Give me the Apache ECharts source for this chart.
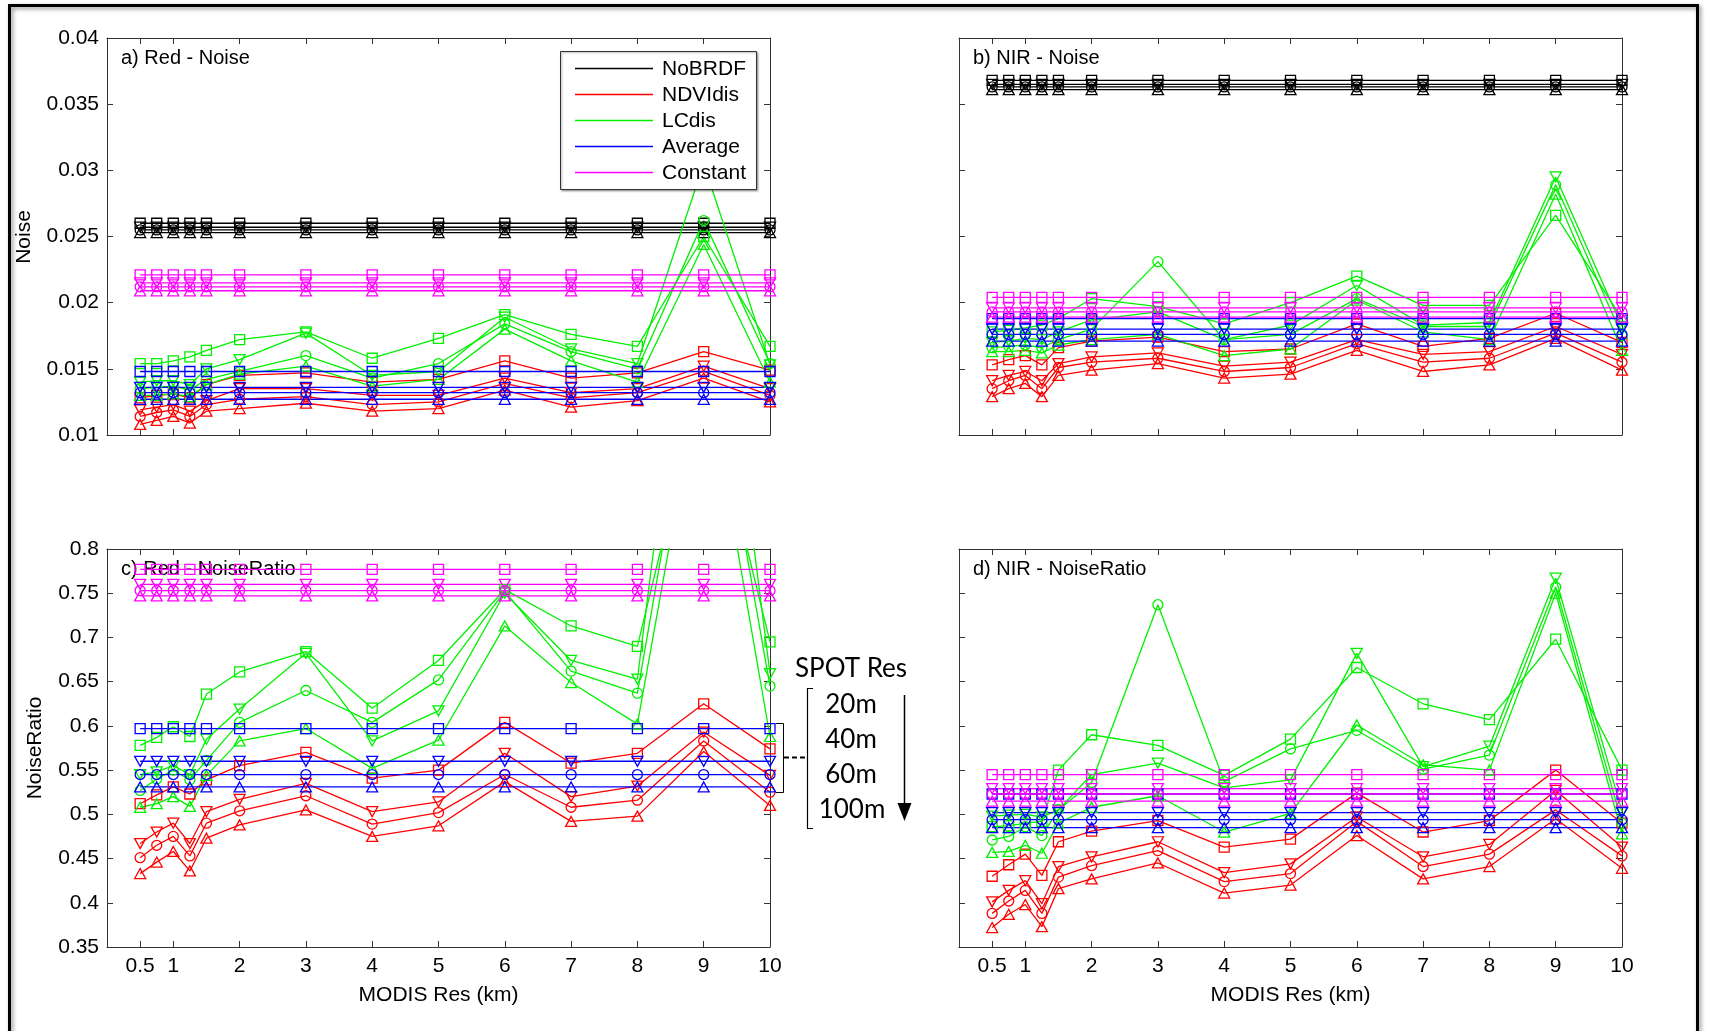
<!DOCTYPE html>
<html>
<head>
<meta charset="utf-8">
<script src="https://cdn.jsdelivr.net/npm/echarts@6/dist/echarts.min.js"></script>
<style>
html,body{margin:0;padding:0;background:#fff;}
#chart{width:1712px;height:1031px;}
</style>
</head>
<body>
<div id="chart"></div>
<script>
// ---------------- DATA ----------------
const modisRes = [0.5, 0.75, 1, 1.25, 1.5, 2, 3, 4, 5, 6, 7, 8, 9, 10];
const xTickValues = [0.5, 1, 2, 3, 4, 5, 6, 7, 8, 9, 10];
const methodNames = ['NoBRDF', 'NDVIdis', 'LCdis', 'Average', 'Constant'];
const spotResLabels = ['20m', '40m', '60m', '100m'];
const panelTitles = ['a) Red - Noise', 'b) NIR - Noise', 'c) Red - NoiseRatio', 'd) NIR - NoiseRatio'];

// a) Red - Noise
const a_NoBRDF_20m  = [0.0260,0.0260,0.0260,0.0260,0.0260,0.0260,0.0260,0.0260,0.0260,0.0260,0.0260,0.0260,0.0260,0.0260];
const a_NoBRDF_40m  = [0.0257,0.0257,0.0257,0.0257,0.0257,0.0257,0.0257,0.0257,0.0257,0.0257,0.0257,0.0257,0.0257,0.0257];
const a_NoBRDF_60m  = [0.0255,0.0255,0.0255,0.0255,0.0255,0.0255,0.0255,0.0255,0.0255,0.0255,0.0255,0.0255,0.0255,0.0255];
const a_NoBRDF_100m = [0.0253,0.0253,0.0253,0.0253,0.0253,0.0253,0.0253,0.0253,0.0253,0.0253,0.0253,0.0253,0.0253,0.0253];
const a_NDVIdis_20m  = [0.0128,0.0130,0.0131,0.0128,0.0138,0.0145,0.0147,0.0140,0.0142,0.0156,0.0143,0.0147,0.0163,0.0149];
const a_NDVIdis_40m  = [0.0119,0.0121,0.0123,0.0118,0.0126,0.0135,0.0135,0.0130,0.0130,0.0143,0.0132,0.0135,0.0152,0.0135];
const a_NDVIdis_60m  = [0.0114,0.0117,0.0119,0.0114,0.0123,0.0127,0.0129,0.0123,0.0125,0.0139,0.0128,0.0132,0.0148,0.0130];
const a_NDVIdis_100m = [0.0108,0.0111,0.0114,0.0109,0.0118,0.0120,0.0124,0.0118,0.0120,0.0134,0.0121,0.0126,0.0143,0.0125];
const a_LCdis_20m  = [0.0154,0.0154,0.0156,0.0159,0.0164,0.0172,0.0178,0.0158,0.0173,0.0191,0.0176,0.0167,0.0250,0.0167];
const a_LCdis_40m  = [0.0140,0.0141,0.0141,0.0138,0.0150,0.0157,0.0177,0.0145,0.0148,0.0189,0.0165,0.0154,0.0305,0.0153];
const a_LCdis_60m  = [0.0135,0.0136,0.0137,0.0134,0.0142,0.0148,0.0160,0.0143,0.0154,0.0184,0.0163,0.0150,0.0262,0.0154];
const a_LCdis_100m = [0.0130,0.0130,0.0131,0.0129,0.0138,0.0146,0.0152,0.0137,0.0142,0.0180,0.0156,0.0140,0.0244,0.0140];
const a_Average_20m  = [0.0148,0.0148,0.0148,0.0148,0.0148,0.0148,0.0148,0.0148,0.0148,0.0148,0.0148,0.0148,0.0148,0.0148];
const a_Average_40m  = [0.0136,0.0136,0.0136,0.0136,0.0136,0.0136,0.0136,0.0136,0.0136,0.0136,0.0136,0.0136,0.0136,0.0136];
const a_Average_60m  = [0.0132,0.0132,0.0132,0.0132,0.0132,0.0132,0.0132,0.0132,0.0132,0.0132,0.0132,0.0132,0.0132,0.0132];
const a_Average_100m = [0.0127,0.0127,0.0127,0.0127,0.0127,0.0127,0.0127,0.0127,0.0127,0.0127,0.0127,0.0127,0.0127,0.0127];
const a_Constant_20m  = [0.0221,0.0221,0.0221,0.0221,0.0221,0.0221,0.0221,0.0221,0.0221,0.0221,0.0221,0.0221,0.0221,0.0221];
const a_Constant_40m  = [0.0215,0.0215,0.0215,0.0215,0.0215,0.0215,0.0215,0.0215,0.0215,0.0215,0.0215,0.0215,0.0215,0.0215];
const a_Constant_60m  = [0.0212,0.0212,0.0212,0.0212,0.0212,0.0212,0.0212,0.0212,0.0212,0.0212,0.0212,0.0212,0.0212,0.0212];
const a_Constant_100m = [0.0209,0.0209,0.0209,0.0209,0.0209,0.0209,0.0209,0.0209,0.0209,0.0209,0.0209,0.0209,0.0209,0.0209];

// b) NIR - Noise
const b_NoBRDF_20m  = [0.0368,0.0368,0.0368,0.0368,0.0368,0.0368,0.0368,0.0368,0.0368,0.0368,0.0368,0.0368,0.0368,0.0368];
const b_NoBRDF_40m  = [0.0365,0.0365,0.0365,0.0365,0.0365,0.0365,0.0365,0.0365,0.0365,0.0365,0.0365,0.0365,0.0365,0.0365];
const b_NoBRDF_60m  = [0.0363,0.0363,0.0363,0.0363,0.0363,0.0363,0.0363,0.0363,0.0363,0.0363,0.0363,0.0363,0.0363,0.0363];
const b_NoBRDF_100m = [0.0361,0.0361,0.0361,0.0361,0.0361,0.0361,0.0361,0.0361,0.0361,0.0361,0.0361,0.0361,0.0361,0.0361];
const b_NDVIdis_20m  = [0.0153,0.0157,0.0160,0.0153,0.0166,0.0171,0.0174,0.0163,0.0165,0.0184,0.0167,0.0173,0.0192,0.0170];
const b_NDVIdis_40m  = [0.0141,0.0145,0.0148,0.0141,0.0154,0.0159,0.0162,0.0152,0.0155,0.0172,0.0161,0.0163,0.0182,0.0161];
const b_NDVIdis_60m  = [0.0135,0.0141,0.0145,0.0135,0.0151,0.0155,0.0158,0.0148,0.0151,0.0169,0.0155,0.0158,0.0177,0.0155];
const b_NDVIdis_100m = [0.0129,0.0135,0.0139,0.0129,0.0145,0.0149,0.0154,0.0143,0.0146,0.0164,0.0148,0.0153,0.0173,0.0149];
const b_LCdis_20m  = [0.0178,0.0179,0.0181,0.0183,0.0188,0.0203,0.0197,0.0184,0.0200,0.0220,0.0198,0.0198,0.0266,0.0188];
const b_LCdis_40m  = [0.0170,0.0171,0.0173,0.0172,0.0178,0.0187,0.0193,0.0172,0.0183,0.0213,0.0183,0.0185,0.0295,0.0182];
const b_LCdis_60m  = [0.0166,0.0167,0.0168,0.0166,0.0172,0.0180,0.0231,0.0172,0.0176,0.0203,0.0182,0.0182,0.0289,0.0175];
const b_LCdis_100m = [0.0163,0.0163,0.0164,0.0162,0.0168,0.0172,0.0176,0.0160,0.0165,0.0202,0.0178,0.0172,0.0282,0.0164];
const b_Average_20m  = [0.0188,0.0188,0.0188,0.0188,0.0188,0.0188,0.0188,0.0188,0.0188,0.0188,0.0188,0.0188,0.0188,0.0188];
const b_Average_40m  = [0.0180,0.0180,0.0180,0.0180,0.0180,0.0180,0.0180,0.0180,0.0180,0.0180,0.0180,0.0180,0.0180,0.0180];
const b_Average_60m  = [0.0176,0.0176,0.0176,0.0176,0.0176,0.0176,0.0176,0.0176,0.0176,0.0176,0.0176,0.0176,0.0176,0.0176];
const b_Average_100m = [0.0171,0.0171,0.0171,0.0171,0.0171,0.0171,0.0171,0.0171,0.0171,0.0171,0.0171,0.0171,0.0171,0.0171];
const b_Constant_20m  = [0.0204,0.0204,0.0204,0.0204,0.0204,0.0204,0.0204,0.0204,0.0204,0.0204,0.0204,0.0204,0.0204,0.0204];
const b_Constant_40m  = [0.0196,0.0196,0.0196,0.0196,0.0196,0.0196,0.0196,0.0196,0.0196,0.0196,0.0196,0.0196,0.0196,0.0196];
const b_Constant_60m  = [0.0193,0.0193,0.0193,0.0193,0.0193,0.0193,0.0193,0.0193,0.0193,0.0193,0.0193,0.0193,0.0193,0.0193];
const b_Constant_100m = [0.0189,0.0189,0.0189,0.0189,0.0189,0.0189,0.0189,0.0189,0.0189,0.0189,0.0189,0.0189,0.0189,0.0189];

// c) Red - NoiseRatio
const c_NDVIdis_20m  = [0.512,0.522,0.531,0.523,0.539,0.555,0.570,0.541,0.550,0.604,0.558,0.569,0.625,0.574];
const c_NDVIdis_40m  = [0.467,0.480,0.490,0.467,0.503,0.517,0.535,0.503,0.514,0.569,0.520,0.532,0.593,0.544];
const c_NDVIdis_60m  = [0.451,0.465,0.475,0.453,0.490,0.504,0.521,0.489,0.502,0.545,0.508,0.516,0.583,0.525];
const c_NDVIdis_100m = [0.433,0.446,0.458,0.436,0.473,0.488,0.505,0.475,0.487,0.537,0.492,0.498,0.571,0.510];
const c_LCdis_20m  = [0.578,0.587,0.599,0.588,0.636,0.661,0.684,0.620,0.674,0.754,0.713,0.690,1.000,0.695];
const c_LCdis_40m  = [0.545,0.548,0.555,0.545,0.585,0.619,0.682,0.583,0.617,0.750,0.674,0.653,1.250,0.659];
const c_LCdis_60m  = [0.527,0.540,0.550,0.539,0.561,0.604,0.640,0.604,0.652,0.752,0.662,0.637,1.070,0.645];
const c_LCdis_100m = [0.508,0.512,0.520,0.509,0.544,0.583,0.597,0.552,0.584,0.713,0.649,0.602,1.020,0.588];
const c_Average_20m  = [0.597,0.597,0.597,0.597,0.597,0.597,0.597,0.597,0.597,0.597,0.597,0.597,0.597,0.597];
const c_Average_40m  = [0.560,0.560,0.560,0.560,0.560,0.560,0.560,0.560,0.560,0.560,0.560,0.560,0.560,0.560];
const c_Average_60m  = [0.545,0.545,0.545,0.545,0.545,0.545,0.545,0.545,0.545,0.545,0.545,0.545,0.545,0.545];
const c_Average_100m = [0.531,0.531,0.531,0.531,0.531,0.531,0.531,0.531,0.531,0.531,0.531,0.531,0.531,0.531];
const c_Constant_20m  = [0.777,0.777,0.777,0.777,0.777,0.777,0.777,0.777,0.777,0.777,0.777,0.777,0.777,0.777];
const c_Constant_40m  = [0.760,0.760,0.760,0.760,0.760,0.760,0.760,0.760,0.760,0.760,0.760,0.760,0.760,0.760];
const c_Constant_60m  = [0.753,0.753,0.753,0.753,0.753,0.753,0.753,0.753,0.753,0.753,0.753,0.753,0.753,0.753];
const c_Constant_100m = [0.747,0.747,0.747,0.747,0.747,0.747,0.747,0.747,0.747,0.747,0.747,0.747,0.747,0.747];

// d) NIR - NoiseRatio
const d_NDVIdis_20m  = [0.430,0.443,0.455,0.431,0.469,0.481,0.493,0.463,0.472,0.524,0.480,0.493,0.550,0.490];
const d_NDVIdis_40m  = [0.401,0.414,0.425,0.399,0.441,0.452,0.469,0.434,0.444,0.497,0.452,0.466,0.527,0.463];
const d_NDVIdis_60m  = [0.388,0.402,0.414,0.388,0.429,0.442,0.459,0.424,0.433,0.492,0.441,0.455,0.505,0.453];
const d_NDVIdis_100m = [0.372,0.387,0.398,0.373,0.416,0.427,0.445,0.411,0.420,0.476,0.427,0.441,0.495,0.439];
const d_LCdis_20m  = [0.486,0.487,0.490,0.492,0.550,0.590,0.578,0.544,0.585,0.666,0.625,0.607,0.698,0.550];
const d_LCdis_40m  = [0.498,0.499,0.500,0.497,0.505,0.545,0.558,0.530,0.539,0.682,0.554,0.577,0.767,0.503];
const d_LCdis_60m  = [0.471,0.475,0.486,0.476,0.505,0.536,0.737,0.537,0.574,0.595,0.551,0.567,0.757,0.490];
const d_LCdis_100m = [0.457,0.458,0.465,0.456,0.490,0.508,0.521,0.480,0.501,0.601,0.556,0.550,0.750,0.478];
const d_Average_20m  = [0.523,0.523,0.523,0.523,0.523,0.523,0.523,0.523,0.523,0.523,0.523,0.523,0.523,0.523];
const d_Average_40m  = [0.502,0.502,0.502,0.502,0.502,0.502,0.502,0.502,0.502,0.502,0.502,0.502,0.502,0.502];
const d_Average_60m  = [0.494,0.494,0.494,0.494,0.494,0.494,0.494,0.494,0.494,0.494,0.494,0.494,0.494,0.494];
const d_Average_100m = [0.485,0.485,0.485,0.485,0.485,0.485,0.485,0.485,0.485,0.485,0.485,0.485,0.485,0.485];
const d_Constant_20m  = [0.545,0.545,0.545,0.545,0.545,0.545,0.545,0.545,0.545,0.545,0.545,0.545,0.545,0.545];
const d_Constant_40m  = [0.529,0.529,0.529,0.529,0.529,0.529,0.529,0.529,0.529,0.529,0.529,0.529,0.529,0.529];
const d_Constant_60m  = [0.523,0.523,0.523,0.523,0.523,0.523,0.523,0.523,0.523,0.523,0.523,0.523,0.523,0.523];
const d_Constant_100m = [0.515,0.515,0.515,0.515,0.515,0.515,0.515,0.515,0.515,0.515,0.515,0.515,0.515,0.515];

// ---------------- ASSEMBLY ----------------
const panelData = [
  { NoBRDF: [a_NoBRDF_20m, a_NoBRDF_40m, a_NoBRDF_60m, a_NoBRDF_100m],
    NDVIdis: [a_NDVIdis_20m, a_NDVIdis_40m, a_NDVIdis_60m, a_NDVIdis_100m],
    LCdis: [a_LCdis_20m, a_LCdis_40m, a_LCdis_60m, a_LCdis_100m],
    Average: [a_Average_20m, a_Average_40m, a_Average_60m, a_Average_100m],
    Constant: [a_Constant_20m, a_Constant_40m, a_Constant_60m, a_Constant_100m] },
  { NoBRDF: [b_NoBRDF_20m, b_NoBRDF_40m, b_NoBRDF_60m, b_NoBRDF_100m],
    NDVIdis: [b_NDVIdis_20m, b_NDVIdis_40m, b_NDVIdis_60m, b_NDVIdis_100m],
    LCdis: [b_LCdis_20m, b_LCdis_40m, b_LCdis_60m, b_LCdis_100m],
    Average: [b_Average_20m, b_Average_40m, b_Average_60m, b_Average_100m],
    Constant: [b_Constant_20m, b_Constant_40m, b_Constant_60m, b_Constant_100m] },
  { NDVIdis: [c_NDVIdis_20m, c_NDVIdis_40m, c_NDVIdis_60m, c_NDVIdis_100m],
    LCdis: [c_LCdis_20m, c_LCdis_40m, c_LCdis_60m, c_LCdis_100m],
    Average: [c_Average_20m, c_Average_40m, c_Average_60m, c_Average_100m],
    Constant: [c_Constant_20m, c_Constant_40m, c_Constant_60m, c_Constant_100m] },
  { NDVIdis: [d_NDVIdis_20m, d_NDVIdis_40m, d_NDVIdis_60m, d_NDVIdis_100m],
    LCdis: [d_LCdis_20m, d_LCdis_40m, d_LCdis_60m, d_LCdis_100m],
    Average: [d_Average_20m, d_Average_40m, d_Average_60m, d_Average_100m],
    Constant: [d_Constant_20m, d_Constant_40m, d_Constant_60m, d_Constant_100m] }
];

const methodColors = { NoBRDF: '#000000', NDVIdis: '#ff0000', LCdis: '#00f000', Average: '#0000ff', Constant: '#ff00ff' };
const resMarkers = [
  { symbol: 'rect', rotate: 0, size: [10, 10] },
  { symbol: 'triangle', rotate: 180, size: [11, 10] },
  { symbol: 'circle', rotate: 0, size: [10, 10] },
  { symbol: 'triangle', rotate: 0, size: [11, 10] }
];
const gridBoxes = [
  { left: 107, top: 38, width: 663, height: 397 },
  { left: 959, top: 38, width: 663, height: 397 },
  { left: 107, top: 549, width: 663, height: 398 },
  { left: 959, top: 549, width: 663, height: 398 }
];
const yRanges = [
  { min: 0.01, max: 0.04, interval: 0.005 },
  { min: 0.01, max: 0.04, interval: 0.005 },
  { min: 0.35, max: 0.8, interval: 0.05 },
  { min: 0.35, max: 0.8, interval: 0.05 }
];
const FONT = "'Liberation Sans', Arial, Helvetica, sans-serif";
const AX = '#333333';

const xAxes = [], yAxes = [], series = [];
gridBoxes.forEach((g, p) => {
  const showX = p >= 2, showY = p % 2 === 0;
  ['bottom', 'top'].forEach((pos, k) => {
    xAxes.push({
      gridIndex: p, type: 'value', min: 0, max: 10, position: pos,
      axisLine: { show: true, onZero: false, lineStyle: { color: AX, width: 1 } },
      axisTick: { show: true, inside: true, length: 6, customValues: xTickValues, lineStyle: { color: AX } },
      axisLabel: { show: showX && k === 0, customValues: xTickValues, fontSize: 21, fontFamily: FONT, color: '#000', margin: 9 },
      splitLine: { show: false }
    });
  });
  ['left', 'right'].forEach((pos, k) => {
    yAxes.push({
      gridIndex: p, type: 'value', min: yRanges[p].min, max: yRanges[p].max, interval: yRanges[p].interval, position: pos,
      axisLine: { show: true, onZero: false, lineStyle: { color: AX, width: 1 } },
      axisTick: { show: true, inside: true, length: 6, lineStyle: { color: AX } },
      axisLabel: { show: showY && k === 0, fontSize: 21, fontFamily: FONT, color: '#000', margin: 8,
        formatter: v => String(parseFloat(v.toFixed(4))) },
      splitLine: { show: false }
    });
  });
  methodNames.forEach(m => {
    const arrs = panelData[p][m];
    if (!arrs) return;
    arrs.forEach((arr, r) => {
      const mk = resMarkers[r];
      series.push({
        type: 'line', name: m + ' ' + spotResLabels[r],
        xAxisIndex: p * 2, yAxisIndex: p * 2,
        data: modisRes.map((x, i) => [x, arr[i]]),
        symbol: mk.symbol, symbolRotate: mk.rotate, symbolSize: mk.size, showSymbol: true,
        lineStyle: { color: methodColors[m], width: 1.3 },
        itemStyle: { color: 'rgba(0,0,0,0)', borderColor: methodColors[m], borderWidth: 1.3 },
        emphasis: { disabled: true }, clip: true, animation: false, z: 2
      });
    });
  });
});

// ---------------- GRAPHICS (texts, legend, annotation) ----------------
const graphics = [];
function txt(text, x, y, o) {
  o = o || {};
  graphics.push({ type: 'text', x: x, y: y, rotation: o.rot || 0, z: o.z || 1, silent: true,
    style: { text: text, fill: '#000', fontSize: o.size || 21, fontFamily: o.family || FONT,
      align: o.align || 'center', verticalAlign: 'middle' } });
}
// outer frame
graphics.push({ type: 'rect', z: 0, silent: true,
  shape: { x: 9.5, y: 5.5, width: 1688, height: 1040 },
  style: { fill: 'none', stroke: '#000', lineWidth: 3, shadowBlur: 4, shadowColor: 'rgba(0,0,0,0.45)', shadowOffsetX: 2, shadowOffsetY: 2 } });
// panel titles
txt(panelTitles[0], 121, 58, { align: 'left', size: 20 });
txt(panelTitles[1], 973, 58, { align: 'left', size: 20 });
txt(panelTitles[2], 121, 569, { align: 'left', size: 20 });
txt(panelTitles[3], 973, 569, { align: 'left', size: 20 });
// axis titles
txt('Noise', 24, 237, { rot: Math.PI / 2 });
txt('NoiseRatio', 35, 748, { rot: Math.PI / 2 });
txt('MODIS Res (km)', 438.5, 995);
txt('MODIS Res (km)', 1290.5, 995);
// legend
graphics.push({ type: 'rect', z: 100, silent: true,
  shape: { x: 560.5, y: 51.5, width: 196, height: 138 },
  style: { fill: '#fff', stroke: '#333', lineWidth: 1, shadowBlur: 2, shadowColor: 'rgba(0,0,0,0.35)', shadowOffsetX: 1, shadowOffsetY: 1 } });
const legendRowsY = [68.5, 94.5, 120.5, 146.5, 172.5];
methodNames.forEach((m, i) => {
  graphics.push({ type: 'line', z: 101, silent: true,
    shape: { x1: 575, y1: legendRowsY[i], x2: 653, y2: legendRowsY[i] },
    style: { stroke: methodColors[m], lineWidth: 1.3 } });
  txt(m, 662, legendRowsY[i] + 1, { align: 'left', z: 101 });
});
// SPOT Res annotation
const CAL = "Lato, 'Open Sans', sans-serif";
txt('SPOT Res', 851, 669, { family: CAL, size: 26 });
txt(spotResLabels[0], 851, 705, { family: CAL, size: 26 });
txt(spotResLabels[1], 851, 740, { family: CAL, size: 26 });
txt(spotResLabels[2], 851, 775, { family: CAL, size: 26 });
txt(spotResLabels[3], 852, 810, { family: CAL, size: 26 });
graphics.push({ type: 'polyline', z: 1, silent: true,
  shape: { points: [[776, 723.5], [783.5, 723.5], [783.5, 792.5], [776, 792.5]] },
  style: { stroke: '#000', lineWidth: 1, fill: 'none' } });
graphics.push({ type: 'line', z: 1, silent: true,
  shape: { x1: 784, y1: 757.5, x2: 807, y2: 757.5 },
  style: { stroke: '#000', lineWidth: 2, lineDash: [5, 3] } });
graphics.push({ type: 'polyline', z: 1, silent: true,
  shape: { points: [[813, 688.5], [807.5, 688.5], [807.5, 828.5], [813, 828.5]] },
  style: { stroke: '#000', lineWidth: 1.2, fill: 'none' } });
graphics.push({ type: 'line', z: 1, silent: true,
  shape: { x1: 904.5, y1: 695, x2: 904.5, y2: 806 },
  style: { stroke: '#000', lineWidth: 1.5 } });
graphics.push({ type: 'polygon', z: 1, silent: true,
  shape: { points: [[897.5, 803], [911.5, 803], [904.5, 821]] },
  style: { fill: '#000' } });

const chart = echarts.init(document.getElementById('chart'), null, { renderer: 'canvas' });
chart.setOption({
  animation: false,
  backgroundColor: '#ffffff',
  grid: gridBoxes.map(g => Object.assign({ containLabel: false, show: false }, g)),
  xAxis: xAxes,
  yAxis: yAxes,
  series: series,
  graphic: graphics,
  tooltip: { show: false }
});
</script>
</body>
</html>
